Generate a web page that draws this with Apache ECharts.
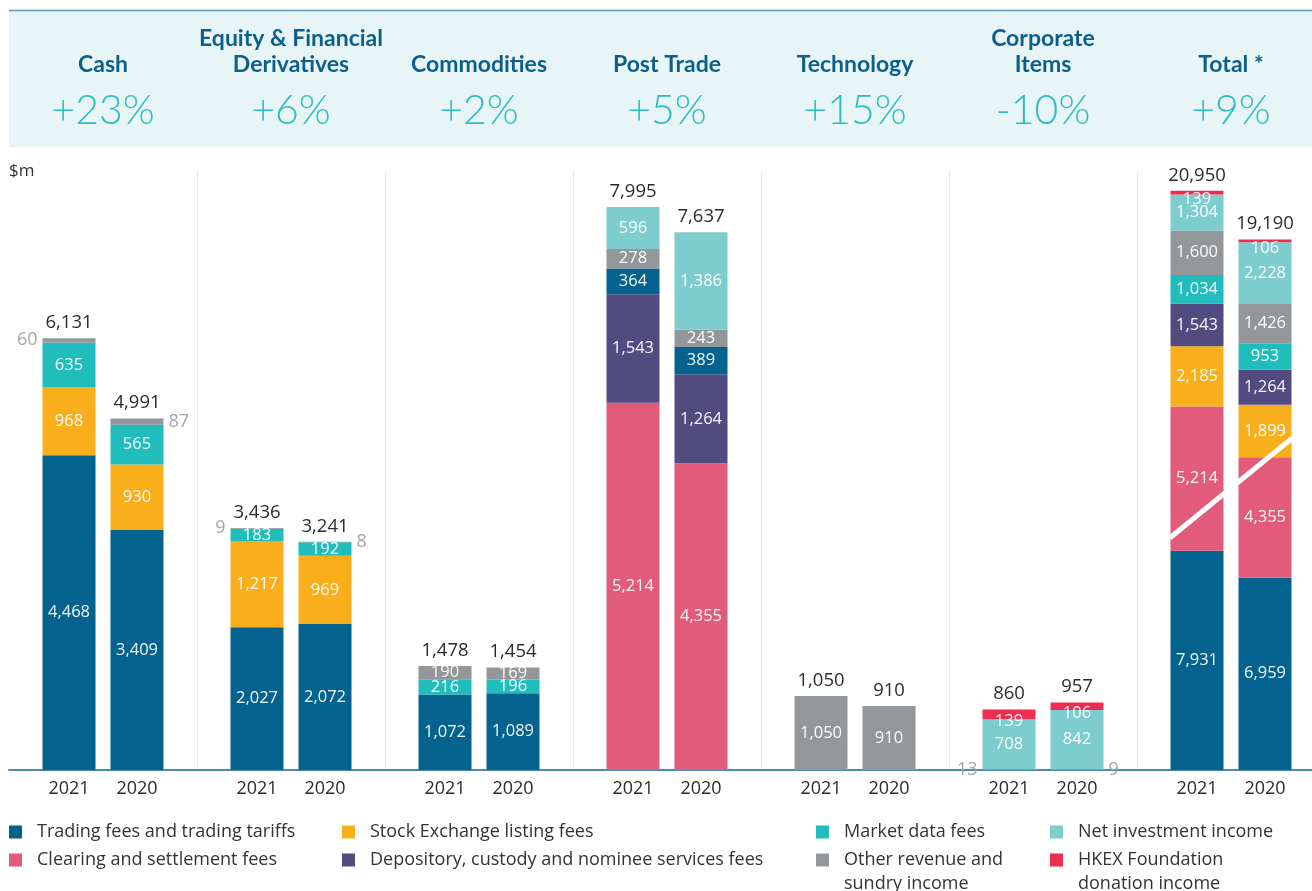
<!DOCTYPE html>
<html>
<head>
<meta charset="utf-8">
<script src="https://cdn.jsdelivr.net/npm/echarts@6/dist/echarts.min.js"></script>
<style>
html,body{margin:0;padding:0;background:#fff}
#main{width:1312px;height:891px}
</style>
</head>
<body>
<div id="main"></div>
<script>
//分组与年份
var groups = ['Cash', 'Equity & Financial\nDerivatives', 'Commodities', 'Post Trade', 'Technology', 'Corporate\nItems', 'Total *'];
var changes = ['+23%', '+6%', '+2%', '+5%', '+15%', '-10%', '+9%'];
var years = ['2021', '2020'];

//各项收入 ($m),最后一项为 Total
var trading2021 = [4468, 2027, 1072, 364, null, null, 7931];
var trading2020 = [3409, 2072, 1089, 389, null, null, 6959];
var clearing2021 = [null, null, null, 5214, null, null, 5214];
var clearing2020 = [null, null, null, 4355, null, null, 4355];
var listing2021 = [968, 1217, null, null, null, null, 2185];
var listing2020 = [930, 969, null, null, null, null, 1899];
var depository2021 = [null, null, null, 1543, null, null, 1543];
var depository2020 = [null, null, null, 1264, null, null, 1264];
var marketData2021 = [635, 183, 216, null, null, null, 1034];
var marketData2020 = [565, 192, 196, null, null, null, 953];
var other2021 = [60, 9, 190, 278, 1050, 13, 1600];
var other2020 = [87, 8, 169, 243, 910, 9, 1426];
var netInvestment2021 = [null, null, null, 596, null, 708, 1304];
var netInvestment2020 = [null, null, null, 1386, null, 842, 2228];
var donation2021 = [null, null, null, null, null, 139, 139];
var donation2020 = [null, null, null, null, null, 106, 106];
var totals2021 = [6131, 3436, 1478, 7995, 1050, 860, 20950];
var totals2020 = [4991, 3241, 1454, 7637, 910, 957, 19190];

var segments = {
	trading: {name: 'Trading fees and trading tariffs', color: '#04628f', v: [trading2021, trading2020]},
	clearing: {name: 'Clearing and settlement fees', color: '#e35b7b', v: [clearing2021, clearing2020]},
	listing: {name: 'Stock Exchange listing fees', color: '#f9ae1c', v: [listing2021, listing2020]},
	depository: {name: 'Depository, custody and nominee services fees', color: '#524b80', v: [depository2021, depository2020]},
	marketData: {name: 'Market data fees', color: '#21bdbd', v: [marketData2021, marketData2020]},
	other: {name: 'Other revenue and\nsundry income', color: '#939799', v: [other2021, other2020]},
	netInvestment: {name: 'Net investment income', color: '#7ecdce', v: [netInvestment2021, netInvestment2020]},
	donation: {name: 'HKEX Foundation\ndonation income', color: '#ef2d51', v: [donation2021, donation2020], labelOffset: [0, 7]}
};
var totals = [totals2021, totals2020];

//堆叠顺序(自下而上)
var order = [
	['clearing', 'depository', 'trading', 'listing', 'marketData', 'other', 'netInvestment', 'donation'],
	['trading', 'clearing', 'listing', 'depository', 'marketData', 'other', 'netInvestment', 'donation']
];

function fmt(v){
	return Number(v).toLocaleString('en-US');
}

//grid 0 为前六组,grid 1 为 Total
function slice(arr, g){
	return g == 0 ? arr.slice(0, 6) : arr.slice(6);
}

var series = [];
for(var g = 0; g < 2; g++){
	for(var y = 0; y < 2; y++){
		order[g].forEach(function(key){
			var seg = segments[key];
			var data = slice(seg.v[y], g).map(function(v){
				if(v == null) return null;
				if(v < 100){//太小的放在柱子外面
					return {value: v, label: {position: y == 0 ? 'left' : 'right', color: '#a3a6a9', fontSize: 18, distance: 5}};
				}
				return v;
			});
			series.push({
				type: 'bar', name: seg.name, xAxisIndex: g, yAxisIndex: g,
				stack: 'g' + g + 'y' + y, barWidth: 53, barGap: '28.3%',
				data: data,
				itemStyle: {color: seg.color},
				label: {show: true, position: 'inside', color: 'rgba(255,255,255,0.95)', fontSize: 16.5,
					offset: seg.labelOffset || [0, 0],
					fontFamily: 'Open Sans', formatter: function(p){ return fmt(p.value); }},
				emphasis: {disabled: true}
			});
		});
		//顶部总数
		(function(g, y){
			var t = slice(totals[y], g);
			series.push({
				type: 'bar', name: 'sum', xAxisIndex: g, yAxisIndex: g,
				stack: 'g' + g + 'y' + y, barWidth: 53, barGap: '28.3%',
				data: t.map(function(){ return 0; }),
				itemStyle: {color: 'rgba(0,0,0,0)'},
				label: {show: true, position: 'top', distance: 6, color: '#2b2b2b', fontSize: 18.5,
					fontFamily: 'Open Sans', formatter: function(p){ return fmt(t[p.dataIndex]); }},
				emphasis: {disabled: true}
			});
		})(g, y);
	}
}

var yearLabel = {
	formatter: function(){ return '{y|' + years[0] + '}{y|' + years[1] + '}'; },
	margin: 10,
	rich: {y: {width: 68, align: 'center', fontSize: 18, color: '#2b2b2b', fontFamily: 'Open Sans'}}
};
var axisLine = {show: true, lineStyle: {color: '#4d8cb1', width: 2}};

var legendCols = [
	['trading', 'clearing'],
	['listing', 'depository'],
	['marketData', 'other'],
	['netInvestment', 'donation']
];
var legendLeft = [9, 342, 816, 1050];
var legends = [];
legendCols.forEach(function(col, c){
	col.forEach(function(key, r){
		var seg = segments[key];
		var multi = seg.name.indexOf('\n') >= 0;
		legends.push({
			left: legendLeft[c], top: multi ? 824 : (r == 0 ? 820 : 848), padding: 0,
			orient: 'vertical', selectedMode: false, icon: 'rect', itemWidth: 13, itemHeight: 13,
			data: [seg.name],
			//多行时在前面补一个空行,使图标对齐第一行
			formatter: function(name){ return multi ? ' \n' + name : name; },
			textStyle: {fontSize: 18, color: '#333', fontFamily: 'Open Sans', lineHeight: 24,
				padding: [0, 0, 0, 10]}
		});
	});
});

var myChart = echarts.init(document.getElementById('main'));
var option = {
	animation: false,
	backgroundColor: '#fff',
	legend: legends,
	grid: [
		{left: 9, top: 170, width: 1128, height: 600, containLabel: false, outerBoundsMode: 'none'},
		{left: 1137, top: 170, width: 188, height: 600, containLabel: false, outerBoundsMode: 'none'}
	],
	xAxis: [
		{type: 'category', gridIndex: 0, data: groups.slice(0, 6), axisLine: axisLine, axisTick: {show: false},
			axisLabel: yearLabel,
			splitLine: {show: true, interval: function(i){ return i > 0; }, lineStyle: {color: '#e9e9e9', width: 1}}},
		{type: 'category', gridIndex: 1, data: groups.slice(6), axisLine: axisLine, axisTick: {show: false},
			axisLabel: yearLabel,
			splitLine: {show: true, lineStyle: {color: '#e9e9e9', width: 1}}}
	],
	yAxis: [
		{type: 'value', gridIndex: 0, min: 0, max: 8520, show: false},
		{type: 'value', gridIndex: 1, min: 0, max: 21700, show: false}
	],
	series: series
};
myChart.setOption(option);

//表头和断轴线
var graphics = [
	{type: 'rect', shape: {x: 9, y: 10, width: 1303, height: 137}, style: {fill: '#e8f5f6'}, z: -10},
	{type: 'line', shape: {x1: 9, y1: 10.5, x2: 1312, y2: 10.5}, style: {stroke: '#5f99ba', lineWidth: 1.5}, z: -9},
	{type: 'text', style: {text: '$m', x: 9, y: 171, verticalAlign: 'middle', fontSize: 17, fontFamily: 'Open Sans', fill: '#333'}}
];
groups.forEach(function(name, i){
	var g = i < 6 ? 0 : 1;
	var cx = myChart.convertToPixel({xAxisIndex: g}, name);
	graphics.push({type: 'text', style: {text: name, x: cx, y: 78, align: 'center', verticalAlign: 'bottom',
		fontSize: 23, fontWeight: 'bold', fontFamily: 'Lato', lineHeight: 26, fill: '#0d5f8b'}});
	graphics.push({type: 'text', style: {text: changes[i], x: cx, y: 111, align: 'center', verticalAlign: 'middle',
		fontSize: 41, fontWeight: 300, fontFamily: 'Lato', fill: '#2bbdbf'}});
});
var breakFrom = 8400, breakTo = 12000;
var p1 = myChart.convertToPixel({gridIndex: 1}, [groups[6], breakFrom]);
var p2 = myChart.convertToPixel({gridIndex: 1}, [groups[6], breakTo]);
graphics.push({type: 'line', shape: {x1: p1[0] - 61, y1: p1[1], x2: p2[0] + 61, y2: p2[1]},
	style: {stroke: '#fff', lineWidth: 5}, z: 100});
myChart.setOption({graphic: graphics});
</script>
</body>
</html>
